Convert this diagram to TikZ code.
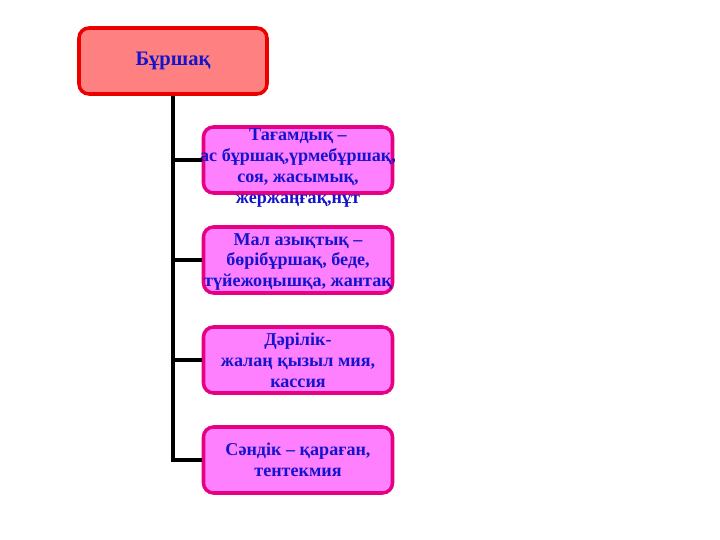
\documentclass[tikz,border=0pt]{standalone}
\usepackage{fontspec}
\setmainfont{Liberation Serif}
\usetikzlibrary{positioning}
\definecolor{rootfill}{RGB}{255,128,128}
\definecolor{rootline}{RGB}{235,0,0}
\definecolor{leaffill}{RGB}{255,128,255}
\definecolor{leafline}{RGB}{230,0,130}
\definecolor{labelblue}{RGB}{20,20,205}

\begin{document}
\begin{tikzpicture}[node distance=2cm,on grid,
	root/.style={draw=rootline, fill=rootfill, line width=2pt, rounded corners=0.2cm, minimum width=3.76cm, minimum height=1.32cm, font=\fontsize{11.7}{13}\selectfont\bfseries, text=labelblue},
	leaf/.style={draw=leafline, fill=leaffill, line width=2pt, rounded corners=0.2cm, minimum width=3.78cm, minimum height=1.32cm},
	leaftext/.style={align=center, inner sep=0pt, font=\fontsize{10.3}{11.9}\selectfont\bfseries, text=labelblue},
	branch/.style={line width=2.3pt}]
	\useasboundingbox (0,0) rectangle (14.4,-10.8);
	\node[root] (bean) at (3.46,-1.22) {Бұршақ};
	\node[leaf, label={[leaftext, yshift=-0.16cm]center:{Тағамдық –\\ас бұршақ,үрмебұршақ,\\соя, жасымық,\\жержаңғақ,нұт}}] (food) at (5.96,-3.2) {};
	\node[leaf, below=of food, label={[leaftext, yshift=-0.04cm]center:{Мал азықтық –\\бөрібұршақ, беде,\\түйежоңышқа, жантақ}}] (fodder) {};
	\node[leaf, below=of fodder, label={[leaftext]center:{Дәрілік-\\жалаң қызыл мия,\\кассия}}] (medicine) {};
	\node[leaf, below=of medicine, label={[leaftext]center:{Сәндік – қараған,\\тентекмия}}] (decor) {};
	
	\foreach \n in {food,fodder,medicine,decor}
		\draw[branch] (bean.south) |- (\n.west);
\end{tikzpicture}
\end{document}
